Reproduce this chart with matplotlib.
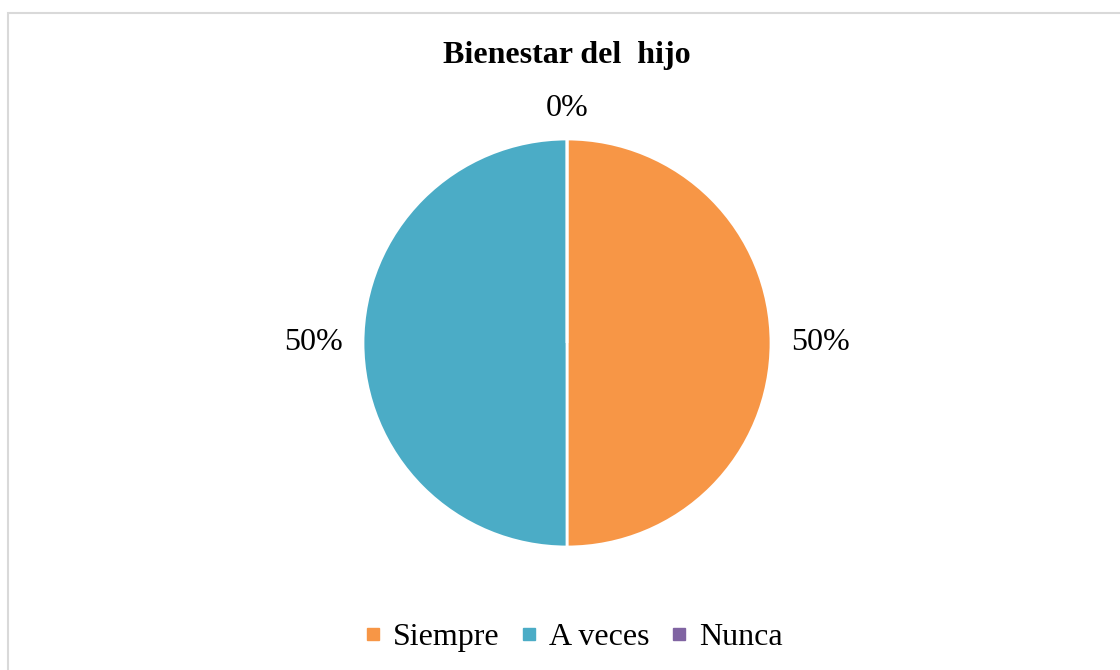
import numpy as np
import matplotlib.pyplot as plt
from matplotlib.patches import Rectangle
from matplotlib.lines import Line2D

plt.rcParams['font.family'] = ['Liberation Serif', 'DejaVu Serif']

categorias = ['Siempre', 'A veces', 'Nunca']
porcentajes = [50, 50, 0]
colores = ['#F79646', '#4BACC6', '#8064A2']
titulo = 'Bienestar del  hijo'

W, H = 1120, 670
fig = plt.figure(figsize=(W / 100, H / 100), dpi=100)

# marco gris del area del grafico
fig.patches.append(Rectangle((8 / W, -0.05), 1.2, 1 - 13 / H + 0.05,
                             transform=fig.transFigure, fill=False,
                             edgecolor='#D9D9D9', linewidth=1.5))

# centro y radio del pastel en pixeles
cx, cy, r = 567, H - 343, 204
ax = fig.add_axes([0, 0, 1, 1])

wedges, texts, autotexts = ax.pie(
    porcentajes, colors=colores, startangle=90, counterclock=False,
    autopct=lambda p: f'{p:.0f}%', pctdistance=1.2,
    wedgeprops=dict(edgecolor='white', linewidth=2),
    textprops=dict(fontsize=23, color='black'))

# etiquetas "fuera del extremo" como en Excel: mas lejos en horizontal
for w, t in zip(wedges, autotexts):
    ang = np.deg2rad((w.theta1 + w.theta2) / 2)
    d = 1 + 0.245 * abs(np.cos(ang)) + 0.15 * abs(np.sin(ang))
    t.set_position((d * np.cos(ang), d * np.sin(ang)))

# pie() fija sus propios limites, se ponen despues
ax.set_xlim(-cx / r, (W - cx) / r)
ax.set_ylim(-cy / r, (H - cy) / r)
ax.set_aspect('equal')
ax.axis('off')

ax.text(0, (H - 56 - cy) / r, titulo, ha='center', va='center',
        fontsize=23, fontweight='bold')

handles = [Line2D([], [], marker='s', linestyle='none', markersize=8,
                  color=c) for c in colores]
fig.legend(handles, categorias, loc='center', ncol=3, frameon=False,
           bbox_to_anchor=(573 / W, 1 - 637 / H), fontsize=23,
           handlelength=0.6, handletextpad=0.3, columnspacing=0.65)

fig.savefig('out.png', dpi=100)
